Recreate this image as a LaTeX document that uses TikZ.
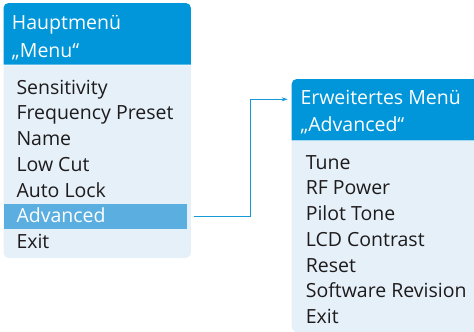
\documentclass[tikz,border=0pt]{standalone}
\usepackage{fontspec}
\setmainfont{Open Sans}
\usetikzlibrary{arrows.meta}
\definecolor{hdrblue}{RGB}{0,150,217}
\definecolor{bodyblue}{RGB}{229,240,249}
\definecolor{hiblue}{RGB}{90,174,224}
\definecolor{txtdark}{RGB}{30,27,28}
\definecolor{linkblue}{RGB}{20,155,215}
\tikzset{
  menufont/.style={font=\fontsize{19.5}{28}\selectfont},
  item/.style={menufont, anchor=base west, inner sep=0pt, text=txtdark},
  hdrtext/.style={menufont, anchor=base west, inner sep=0pt, text=white},
  area/.style={inner sep=0pt, anchor=north west},
  link/.style={draw=linkblue, line width=1pt, -{Stealth[length=6pt,width=4pt]}},
}
\begin{document}
\begin{tikzpicture}[x=1pt,y=-1pt]
\useasboundingbox (0,0) rectangle (474,332);
% left box
\node[area, minimum width=187pt, minimum height=61.3pt] (h1) at (3.5,3) {};
\fill[hdrblue] (h1.south west) [rounded corners=5pt] -- (h1.north west) -- (h1.north east) [sharp corners] -- (h1.south east) -- cycle;
\node[area, minimum width=187pt, minimum height=192.4pt] (b1) at (3.5,65.3) {};
\fill[bodyblue] (b1.north east) [rounded corners=6pt] -- (b1.south east) -- (b1.south west) [sharp corners] -- (b1.north west) -- cycle;
\node[area, fill=hiblue, minimum width=183.2pt, minimum height=24.3pt] (adv) at (3.5,204) {};
% left header text
\node[hdrtext] (t1a) at (11.8,29.3) {Hauptmenü};
\node[hdrtext] (t1b) at (11.8,57.3) {„Menu“};
% left items
\node[item] (l1) at (16.3,94) {Sensitivity};
\node[item] (l2) at (16.3,119.75) {Frequency Preset};
\node[item] (l3) at (16.3,145.5) {Name};
\node[item] (l4) at (16.3,171.25) {Low Cut};
\node[item] (l5) at (16.3,197) {Auto Lock};
\node[item, text=white] (l6) at (16.3,222.75) {Advanced};
\node[item] (l7) at (16.3,248.5) {Exit};
% right box
\node[area, minimum width=182.5pt, minimum height=61pt] (h2) at (291.7,79) {};
\fill[hdrblue] (h2.south west) [rounded corners=5pt] -- (h2.north west) [sharp corners] -- (h2.north east) -- (h2.south east) -- cycle;
\node[area, minimum width=182.5pt, minimum height=190.8pt] (b2) at (291.7,141) {};
\fill[bodyblue] (b2.north east) -- (b2.south east) [rounded corners=6pt] -- (b2.south west) [sharp corners] -- (b2.north west) -- cycle;
\node[hdrtext] (t2a) at (300.3,104.3) {Erweitertes Menü};
\node[hdrtext] (t2b) at (300.3,131.5) {„Advanced“};
\node[item] (r1) at (305.6,169) {Tune};
\node[item] (r2) at (305.6,194.75) {RF Power};
\node[item] (r3) at (305.6,220.5) {Pilot Tone};
\node[item] (r4) at (305.6,246.25) {LCD Contrast};
\node[item] (r5) at (305.6,272) {Reset};
\node[item] (r6) at (305.6,297.75) {Software Revision};
\node[item] (r7) at (305.6,323.5) {Exit};
% connector
\coordinate (bend) at (250,0);
\draw[link] ([xshift=6.5pt]adv.east) -| ([yshift=-20.3pt]bend |- h2.north) -- ([xshift=-4pt,yshift=-20.3pt]h2.north west);
\end{tikzpicture}
\end{document}
